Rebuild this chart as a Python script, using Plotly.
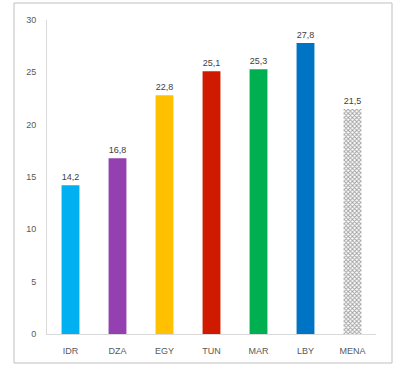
import plotly.graph_objects as go

categories = ["IDR", "DZA", "EGY", "TUN", "MAR", "LBY", "MENA"]
values = [14.2, 16.8, 22.8, 25.1, 25.3, 27.8, 21.5]
labels = ["14,2", "16,8", "22,8", "25,1", "25,3", "27,8", "21,5"]
colors = ["#00B0F0", "#9440B0", "#FFC000", "#D01A00", "#00B050", "#0074C4", "#FFFFFF"]
patterns = ["", "", "", "", "", "", "x"]
y_ticks = [0, 5, 10, 15, 20, 25, 30]

fig = go.Figure()
fig.add_trace(go.Bar(
    x=categories, y=values,
    marker=dict(color=colors, line=dict(width=0),
                pattern=dict(shape=patterns, fgcolor="#2E4A7A", bgcolor="#E8EEF6",
                             size=3, solidity=0.55)),
    text=labels, textposition="outside", cliponaxis=False,
    textfont=dict(size=9, color="#404040", family="Liberation Sans"),
))

L, R, T, B = 47, 19, 20, 32
W, H = 395, 366
pw, ph = W - L - R, H - T - B
def px(x): return (x - L) / pw
def py(y): return (H - B - y) / ph

fig.update_layout(
    width=W, height=H,
    margin=dict(l=L, r=R, t=T, b=B, autoexpand=False),
    plot_bgcolor="white", paper_bgcolor="white",
    bargap=0.62, showlegend=False,
    font=dict(family="Liberation Sans", size=9, color="#595959"),
    xaxis=dict(showline=True, linecolor="#D9D9D9", linewidth=1, ticks="",
               ticklabelstandoff=8, automargin=False,
               tickfont=dict(size=9, color="#595959")),
    yaxis=dict(range=[0, 30], tickvals=y_ticks, showgrid=False, zeroline=False,
               showline=True, linecolor="#D9D9D9", linewidth=1, ticks="",
               ticklabelstandoff=8, automargin=False,
               tickfont=dict(size=9, color="#595959")),
    shapes=[dict(type="rect", xref="paper", yref="paper",
                 x0=px(14), x1=px(392), y0=py(363), y1=py(3),
                 line=dict(color="#BFBFBF", width=1), fillcolor="rgba(0,0,0,0)",
                 layer="below")],
)
fig.write_html("out.html")
